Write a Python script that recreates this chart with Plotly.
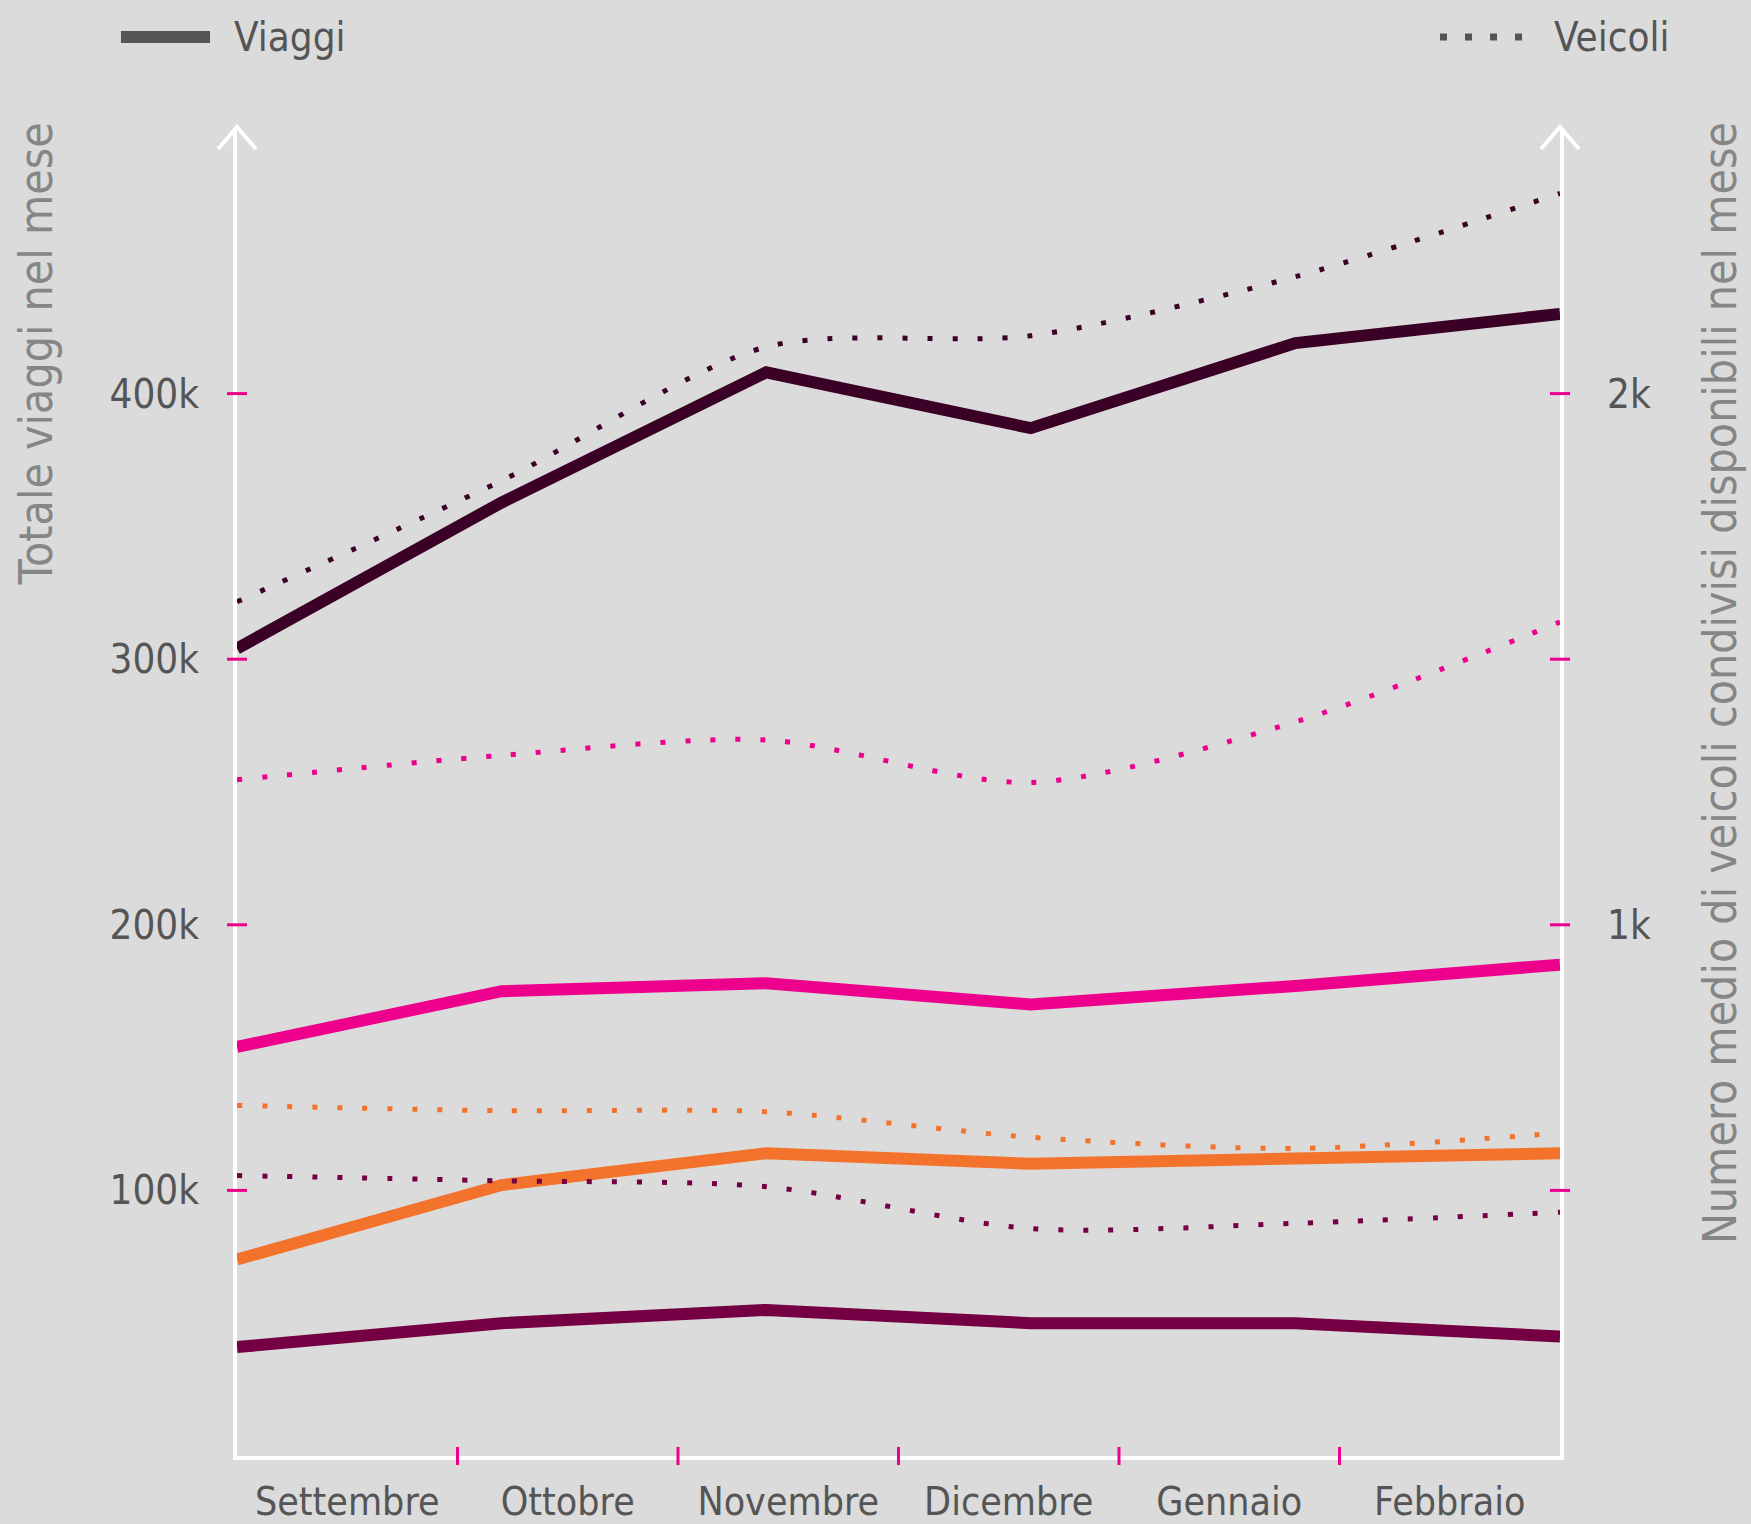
import plotly.graph_objects as go

# ---- data ----
mesi = ["Settembre", "Ottobre", "Novembre", "Dicembre", "Gennaio", "Febbraio"]

viaggi_a = [304000, 359000, 408000, 387000, 419000, 430000]
viaggi_b = [154000, 175000, 178000, 170000, 177000, 185000]
viaggi_c = [74000, 102000, 114000, 110000, 112000, 114000]
viaggi_d = [41000, 50000, 55000, 50000, 50000, 45000]

veicoli_a = [1608, 1836, 2088, 2109, 2220, 2377]
veicoli_b = [1273, 1319, 1348, 1268, 1382, 1570]
veicoli_c = [660, 650, 648, 600, 579, 608]
veicoli_d = [528, 518, 507, 428, 438, 459]

left_tickvals = [100000, 200000, 300000, 400000]
left_ticktext = ["100k", "200k", "300k", "400k"]
right_tickvals = [500, 1000, 1500, 2000]
right_ticktext = ["", "1k", "", "2k"]

colori = ["#3b0026", "#ec008c", "#f4732c", "#740043"]

# ---- styles ----
FONT = "DejaVu Sans Condensed, Liberation Sans Narrow, Roboto, sans-serif"
BG = "#dbdbdb"
TXT = "#555555"
TITLE = "#868686"
PINK = "#ec008c"

n = len(mesi)
x_idx = list(range(n))
band = (n - 1) / n
label_pos = [(i + 0.5) * band for i in range(n)]
tick_pos = [i * band for i in range(1, n)]

fig = go.Figure()

for serie, col in zip([veicoli_a, veicoli_b, veicoli_c, veicoli_d], colori):
    fig.add_trace(go.Scatter(
        x=x_idx, y=serie, yaxis="y2", mode="lines",
        line=dict(color=col, width=5, dash="5px,20px", shape="spline", smoothing=0.8),
        cliponaxis=False, hoverinfo="skip", showlegend=False))

for serie, col in zip([viaggi_a, viaggi_b, viaggi_c, viaggi_d], colori):
    fig.add_trace(go.Scatter(
        x=x_idx, y=serie, mode="lines",
        line=dict(color=col, width=12),
        cliponaxis=False, hoverinfo="skip", showlegend=False))

shapes = []
# y ticks (left / right) crossing the axis lines
for v in left_tickvals:
    shapes.append(dict(type="line", xref="paper", xsizemode="pixel", xanchor=0,
                       x0=-10, x1=10, yref="y", y0=v, y1=v,
                       line=dict(color=PINK, width=3)))
for v in right_tickvals:
    shapes.append(dict(type="line", xref="paper", xsizemode="pixel", xanchor=1,
                       x0=-10, x1=10, yref="y2", y0=v, y1=v,
                       line=dict(color=PINK, width=3)))
for v in tick_pos:
    shapes.append(dict(type="line", xref="x", x0=v, x1=v,
                       yref="paper", ysizemode="pixel", yanchor=0,
                       y0=-9, y1=9, line=dict(color=PINK, width=3)))
# arrow heads on the y axes
for xa in [0, 1]:
    shapes.append(dict(type="path", xref="paper", xsizemode="pixel", xanchor=xa,
                       yref="paper", ysizemode="pixel", yanchor=1,
                       path="M -19 -21 L 0 1 L 19 -21",
                       line=dict(color="white", width=4)))
# legend samples
shapes.append(dict(type="line", xref="paper", yref="paper",
                   x0=-0.0877, x1=-0.0204, y0=1.0685, y1=1.0685,
                   line=dict(color=TXT, width=12)))
shapes.append(dict(type="line", xref="paper", yref="paper",
                   x0=0.9093, x1=0.9728, y0=1.0685, y1=1.0685,
                   line=dict(color=TXT, width=7, dash="7px,18px")))

annotations = [
    dict(text="Viaggi", xref="paper", yref="paper", x=-0.004, y=1.0685,
         xanchor="left", yanchor="middle", showarrow=False,
         font=dict(size=40, color=TXT, family=FONT)),
    dict(text="Veicoli", xref="paper", yref="paper", x=0.994, y=1.0685,
         xanchor="left", yanchor="middle", showarrow=False,
         font=dict(size=40, color=TXT, family=FONT)),
    dict(text="Totale viaggi nel mese", xref="paper", yref="paper",
         x=-0.152, y=1, xanchor="center", yanchor="top", yshift=8,
         textangle=-90, showarrow=False,
         font=dict(size=46, color=TITLE, family=FONT)),
    dict(text="Numero medio di veicoli condivisi disponibili nel mese",
         xref="paper", yref="paper", x=1.121, y=1, xanchor="center",
         yanchor="top", yshift=8, textangle=-90, showarrow=False,
         font=dict(size=46, color=TITLE, family=FONT)),
]

fig.update_layout(
    width=1751, height=1524,
    margin=dict(l=237, r=191, t=128, b=68, autoexpand=False),
    paper_bgcolor=BG, plot_bgcolor=BG,
    showlegend=False,
    font=dict(family=FONT, color=TXT, size=40),
    xaxis=dict(range=[0, n - 1], tickmode="array", tickvals=label_pos,
               ticktext=mesi, ticks="", showgrid=False, zeroline=False,
               showline=True, linecolor="white", linewidth=4,
               ticklabelstandoff=8, layer="below traces",
               tickfont=dict(size=39, color=TXT, family=FONT), fixedrange=True),
    yaxis=dict(range=[0, 500000], tickmode="array", tickvals=left_tickvals,
               ticktext=left_ticktext, ticks="", showgrid=False, zeroline=False,
               showline=True, linecolor="white", linewidth=4,
               ticklabelstandoff=26, layer="below traces",
               tickfont=dict(size=40, color=TXT, family=FONT), fixedrange=True),
    yaxis2=dict(range=[0, 2500], overlaying="y", side="right", tickmode="array",
                tickvals=right_tickvals, ticktext=right_ticktext, ticks="",
                showgrid=False, zeroline=False, showline=True,
                linecolor="white", linewidth=4, ticklabelstandoff=35,
                layer="below traces",
                tickfont=dict(size=40, color=TXT, family=FONT), fixedrange=True),
    shapes=shapes,
    annotations=annotations,
)

fig.write_html("out.html",
               config={"displayModeBar": False},
               post_script="document.body.style.margin='0';document.body.style.overflow='hidden';")
